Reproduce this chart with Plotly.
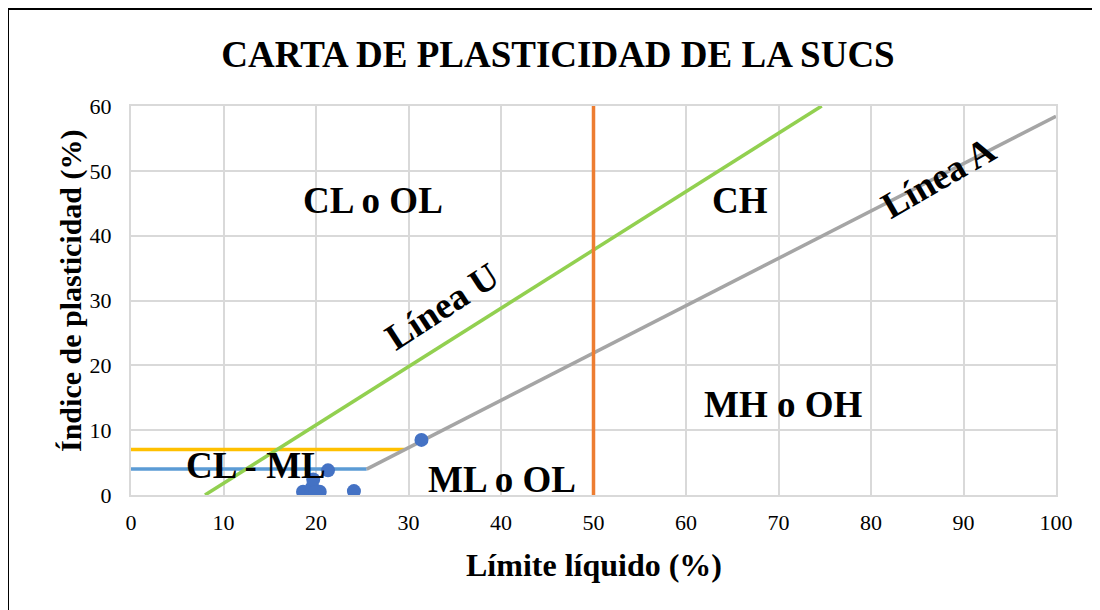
import plotly.graph_objects as go

# Data
ll_points = [18.6, 19.5, 20.4, 19.6, 19.7, 21.3, 24.1, 31.4, 19.9]
pi_points = [0.5, 0.3, 0.5, 1.2, 2.4, 3.8, 0.6, 8.5, 0.4]

linea_u_x = [8, 74.67]
linea_u_y = [0, 60]
linea_a_x = [25.48, 100]
linea_a_y = [4, 58.4]
yellow_x = [0, 29.59]
yellow_y = [7, 7]
blue_x = [0, 25.48]
blue_y = [4, 4]
vert_x = [50, 50]
vert_y = [0, 60]

x_ticks = list(range(0, 101, 10))
y_ticks = list(range(0, 61, 10))

FONT = "Liberation Serif, Times New Roman, serif"
L, R, T, B = 123, 52, 98, 123
PW, PH = 1100 - L - R, 610 - T - B
LW = 3.5

fig = go.Figure()
fig.add_trace(go.Scatter(x=blue_x, y=blue_y, mode="lines", line=dict(color="#5B9BD5", width=LW), showlegend=False))
fig.add_trace(go.Scatter(x=yellow_x, y=yellow_y, mode="lines", line=dict(color="#FFC000", width=LW), showlegend=False))
fig.add_trace(go.Scatter(x=linea_a_x, y=linea_a_y, mode="lines", line=dict(color="#A5A5A5", width=LW), showlegend=False))
fig.add_trace(go.Scatter(x=linea_u_x, y=linea_u_y, mode="lines", line=dict(color="#92D050", width=LW), showlegend=False))
fig.add_trace(go.Scatter(x=vert_x, y=vert_y, mode="lines", line=dict(color="#ED7D31", width=LW), showlegend=False))
fig.add_trace(go.Scatter(x=ll_points, y=pi_points, mode="markers",
                         marker=dict(color="#4472C4", size=14), showlegend=False))

labels = [
    ("CL o OL", 26.2, 45.5, 0),
    ("CH", 65.8, 45.5, 0),
    ("MH o OH", 70.5, 13.9, 0),
    ("ML o OL", 40.1, 2.4, 0),
    ("CL - ML", 13.5, 4.6, 0),
    ("Línea U", 33.6, 29.0, -33),
    ("Línea A", 87.3, 49.0, -30),
]
for txt, x, y, ang in labels:
    fig.add_annotation(x=x, y=y, xref="x", yref="y", text=f"<b>{txt}</b>", showarrow=False,
                       textangle=ang, font=dict(family=FONT, size=37, color="black"))

# axis titles
fig.add_annotation(x=(63 - L) / PW, y=(487 - 283) / PH, xref="paper", yref="paper",
                   text="<b>Índice de plasticidad (%)</b>", textangle=-90, showarrow=False,
                   xanchor="center", yanchor="middle", font=dict(family=FONT, size=30, color="black"))
fig.add_annotation(x=(586 - L) / PW, y=-(557 - 487) / PH, xref="paper", yref="paper",
                   text="<b>Límite líquido (%)</b>", showarrow=False,
                   xanchor="center", yanchor="middle", font=dict(family=FONT, size=32, color="black"))

fig.add_shape(type="rect", xref="paper", yref="paper",
              x0=-L / PW, x1=(1110 - L) / PW,
              y0=-(B + 20) / PH, y1=1 + (T - 1) / PH,
              line=dict(color="black", width=2), layer="below")

fig.update_layout(
    width=1100, height=610,
    margin=dict(l=L, r=R, t=T, b=B),
    paper_bgcolor="white", plot_bgcolor="white",
    title=dict(text="<b>CARTA DE PLASTICIDAD DE LA SUCS</b>", x=0.5, xanchor="center",
               y=1 - 46 / 610, yanchor="middle", font=dict(family=FONT, size=37, color="black")),
    font=dict(family=FONT, color="black"),
)
fig.update_xaxes(range=[0, 100], tickvals=x_ticks, showgrid=True, gridcolor="#D9D9D9", gridwidth=2,
                 showline=True, linecolor="#D9D9D9", linewidth=2, mirror=True, zeroline=False,
                 ticks="outside", ticklen=7, tickcolor="rgba(0,0,0,0)",
                 tickfont=dict(family=FONT, size=22, color="black"))
fig.update_yaxes(range=[0, 60], tickvals=y_ticks, showgrid=True, gridcolor="#D9D9D9", gridwidth=2,
                 showline=True, linecolor="#D9D9D9", linewidth=2, mirror=True, zeroline=False,
                 ticks="outside", ticklen=13, tickcolor="rgba(0,0,0,0)",
                 tickfont=dict(family=FONT, size=22, color="black"))

fig.write_html("out.html")
